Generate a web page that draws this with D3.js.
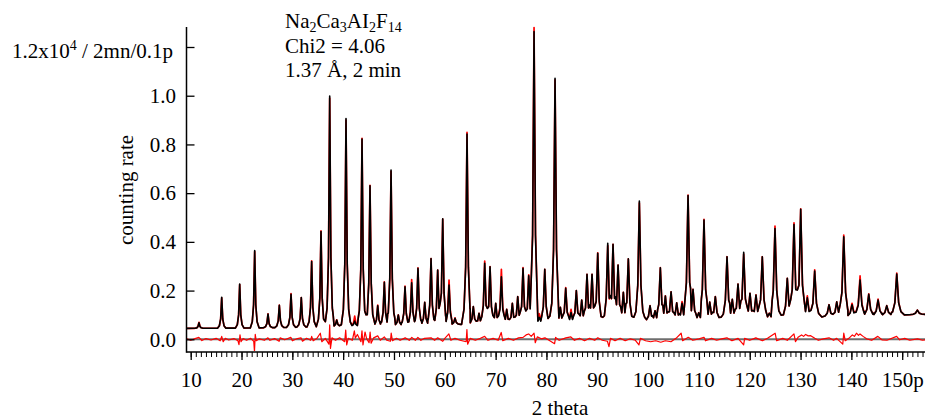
<!DOCTYPE html>
<html>
<head>
<meta charset="utf-8">
<script src="https://cdn.jsdelivr.net/npm/d3@7"></script>
<style>
body { margin: 0; background: #fff; }
svg text { font-family: "Liberation Serif", "Times New Roman", serif; font-size: 21px; fill: #000; }
</style>
</head>
<body>
<svg id="chart" width="925" height="420"></svg>
<script>
(() => {

const peak_pos = [11.63, 16.1, 19.64, 22.59, 25.21, 27.44, 29.74, 31.76, 33.8, 35.64,
    37.35, 38.73, 40.56, 42.27, 43.71, 45.28, 46.8, 48.1, 49.42, 50.85,
    52.17, 53.48, 54.72, 56.05, 57.29, 58.6, 59.59, 60.83, 62.01, 64.37,
    65.61, 66.73, 67.85, 68.9, 70.02, 71.13, 72.18, 73.29, 74.35, 75.39,
    76.51, 77.56, 78.6, 79.67, 81.69, 82.74, 83.79, 84.84, 85.88, 86.94,
    87.98, 88.97, 90.09, 92.06, 93.1, 94.09, 95.13, 96.11, 98.28, 100.38,
    101.37, 102.41, 103.4, 104.52, 105.63, 106.68, 107.86, 108.84, 109.96, 111.0,
    112.13, 113.23, 115.53, 116.57, 117.69, 118.81, 120.05, 121.23, 122.47, 123.85,
    124.97, 127.39, 128.71, 130.03, 131.33, 132.78, 135.6, 137.12, 138.5, 140.13,
    141.71, 143.42, 145.25, 146.96, 148.93, 152.98];

const calc_height = [0.068, 0.172, 0.227, 0.364, 0.104, 0.14, 0.185, 0.171, 0.319, 0.442,
    0.999, 0.079, 0.906, 0.075, 0.822, 0.63, 0.138, 0.234, 0.695, 0.1,
    0.216, 0.232, 0.291, 0.152, 0.331, 0.284, 0.495, 0.223, 0.086, 0.843,
    0.134, 0.107, 0.312, 0.298, 0.148, 0.257, 0.123, 0.148, 0.175, 0.291,
    0.261, 1.263, 0.09, 0.287, 1.072, 0.131, 0.209, 0.11, 0.2, 0.161,
    0.267, 0.267, 0.353, 0.394, 0.39, 0.305, 0.193, 0.33, 0.568, 0.138,
    0.117, 0.294, 0.178, 0.195, 0.15, 0.148, 0.59, 0.205, 0.109, 0.49,
    0.153, 0.175, 0.339, 0.164, 0.227, 0.357, 0.189, 0.182, 0.339, 0.107,
    0.455, 0.25, 0.471, 0.534, 0.17, 0.28, 0.142, 0.154, 0.421, 0.142,
    0.243, 0.185, 0.161, 0.138, 0.268, 0.12];

const obs_height = [0.07, 0.17, 0.225, 0.36, 0.104, 0.14, 0.188, 0.171, 0.322, 0.445,
    0.99, 0.08, 0.9, 0.095, 0.825, 0.632, 0.14, 0.236, 0.69, 0.1,
    0.218, 0.245, 0.293, 0.152, 0.331, 0.284, 0.493, 0.243, 0.088, 0.85,
    0.134, 0.107, 0.321, 0.298, 0.148, 0.287, 0.123, 0.148, 0.175, 0.294,
    0.265, 1.28, 0.105, 0.287, 1.065, 0.131, 0.212, 0.123, 0.2, 0.161,
    0.267, 0.267, 0.355, 0.385, 0.39, 0.305, 0.193, 0.33, 0.56, 0.138,
    0.117, 0.294, 0.178, 0.195, 0.15, 0.155, 0.592, 0.205, 0.109, 0.492,
    0.153, 0.175, 0.339, 0.164, 0.227, 0.35, 0.189, 0.182, 0.339, 0.107,
    0.465, 0.25, 0.478, 0.536, 0.178, 0.285, 0.142, 0.154, 0.428, 0.148,
    0.26, 0.187, 0.165, 0.138, 0.272, 0.12];

// background level under the peaks
const bg_theta = [9.2, 20, 30, 40, 50, 60, 70, 80, 90, 100, 110, 120, 130, 140, 150, 155.5];
const bg_value = [0.045, 0.046, 0.049, 0.054, 0.057, 0.06, 0.064, 0.068, 0.07, 0.076,
    0.081, 0.085, 0.089, 0.094, 0.1, 0.103];

// difference curve (obs - calc)
const diff_theta = [9.2, 10, 11, 11.6, 12.2, 13, 14, 15, 15.8, 16.1, 16.4, 16.8, 17.5, 18.5, 19.3,
    19.5, 19.7, 19.9, 20.3, 21, 21.8, 22.4, 22.55, 22.7, 22.9, 23.5, 24.5, 25.2, 25.6, 26.5,
    27.4, 27.6, 28.5, 29.7, 30, 31, 31.7, 32, 32.8, 33.6, 33.8, 34.1, 34.8, 35.5, 35.8,
    36.5, 37.2, 37.35, 37.5, 37.8, 38.5, 39.3, 40.3, 40.5, 40.7, 41, 41.8, 42.2, 42.4, 42.8,
    43.5, 43.7, 43.9, 44.3, 44.6, 45.1, 45.3, 45.5, 46, 46.8, 47.3, 48.1, 48.6, 49.3, 49.45,
    49.7, 50.5, 51.2, 52.2, 53, 53.5, 54.2, 54.7, 55.3, 56, 57.3, 58, 58.6, 59.6, 60,
    60.8, 61.2, 62, 63, 64.2, 64.35, 64.5, 65, 66, 67, 67.85, 68.5, 69.5, 70.5, 71.1,
    71.4, 72.5, 73.5, 74.5, 75.4, 76, 76.5, 77, 77.56, 77.8, 78.2, 79, 79.7, 80.5, 81.6,
    81.8, 82.5, 83.8, 84.8, 85.5, 86.5, 87.5, 88.5, 89.5, 90.1, 91, 92, 92.3, 92.6, 93.5,
    94.5, 95.5, 96.5, 97.5, 98.2, 98.5, 99.5, 100.5, 101.5, 102.5, 103.4, 104.5, 105.5, 106.5, 106.8,
    107.9, 108.8, 110, 111, 111.3, 112.5, 113.5, 114.5, 115.5, 116.5, 117.7, 118.8, 119, 120, 121.2,
    122.5, 123.5, 125, 125.3, 126.5, 127.4, 128.7, 129, 129.5, 130.2, 130.6, 131, 131.5, 132, 132.8,
    133.5, 134.5, 135.6, 136.5, 137.1, 138.3, 138.5, 138.8, 139.5, 140.2, 140.6, 141, 141.4, 141.7, 142.3,
    143, 144, 145.2, 146, 147, 148.9, 149.5, 150.5, 151.5, 153, 154, 155.5];

const diff_value = [0.002, -0.004, 0.004, 0.008, -0.005, 0.003, -0.003, 0.004, -0.006, 0.012, -0.01, 0.004, -0.003, 0.003, -0.006,
    -0.022, 0.018, -0.01, 0.003, -0.004, 0.004, -0.008, -0.05, 0.02, -0.006, 0.002, -0.004, 0.006, -0.004, 0.003,
    -0.008, 0.006, -0.002, 0.008, -0.006, 0.003, 0.006, -0.008, 0.004, -0.004, 0.012, -0.006, 0.003, 0.025, -0.01,
    0.004, -0.02, 0.059, -0.037, 0.006, -0.004, 0.006, -0.01, 0.038, -0.023, 0.004, -0.004, 0.035, 0.005, 0.02,
    -0.01, 0.035, -0.023, 0.03, 0.004, -0.014, 0.03, -0.016, 0.006, 0.014, -0.004, 0.01, -0.004, -0.008, 0.025,
    -0.006, 0.004, -0.004, 0.006, -0.004, 0.008, -0.004, 0.008, -0.004, 0.004, 0.006, -0.004, 0.006, -0.008, 0.004,
    0.022, -0.004, 0.004, -0.004, -0.01, 0.04, -0.02, 0.004, -0.004, 0.004, 0.012, -0.004, 0.004, -0.004, 0.028,
    -0.006, 0.004, -0.004, 0.006, 0.008, 0.018, 0.022, 0.012, 0.025, -0.014, 0.01, 0.002, 0.006, -0.004, -0.018,
    0.008, -0.004, 0.006, 0.01, -0.004, 0.004, -0.006, 0.004, -0.004, 0.006, -0.004, -0.008, -0.03, 0.004, -0.006,
    0.004, -0.006, 0.002, -0.004, -0.023, 0.004, -0.006, -0.01, -0.006, -0.012, -0.006, -0.01, 0.004, 0.025, -0.006,
    0.008, -0.004, 0.002, 0.008, -0.006, 0.004, -0.004, 0.002, 0.006, -0.006, 0.004, -0.023, 0.004, -0.004, 0.006,
    -0.006, 0.004, 0.025, -0.006, 0.004, -0.004, 0.022, -0.01, 0.008, 0.018, 0.012, 0.02, 0.014, 0.015, 0.004,
    -0.004, 0.002, 0.006, -0.004, 0.004, -0.02, 0.025, -0.006, 0.004, 0.018, 0.012, 0.025, 0.016, 0.022, 0.012,
    0.002, -0.004, 0.012, -0.002, -0.004, 0.012, -0.002, 0.004, -0.004, 0.002, -0.004, 0.002];

const x_ticks = [10, 20, 30, 40, 50, 60, 70, 80, 90, 100, 110, 120, 130, 140, 150];
const x_minor_ticks = d3.range(10, 155, 1);
const y_ticks = [0, 0.2, 0.4, 0.6, 0.8, 1.0, 1.2];

// layout
const plot_left = 186.5;
const plot_right = 925;
const plot_top = 27;
const plot_bottom = 352;

let svg = d3.select('#chart');

let x = d3.scaleLinear().domain([10, 150]).range([190.7, 902.2]);
let y = d3.scaleLinear().domain([0, 1.2]).range([339.3, 47]);
let background = d3.scaleLinear().domain(bg_theta).range(bg_value);

// outline of one peak, in units of its half width and its height above background
const shape_offset = [-1, -0.55, -0.25, 0, 0.25, 0.55, 1];
const shape_level = [0, 0.08, 0.3, 1, 0.3, 0.08, 0];
let shape = d3.scaleLinear().domain(shape_offset).range(shape_level).clamp(true);
let half_width = (t) => 0.8 + 0.005 * (t - 10);

function excess(i, heights, t) {
    if (i < 0 || i >= peak_pos.length) return 0;
    let p = peak_pos[i];
    return shape((t - p) / half_width(p)) * (heights[i] - background(p));
}

function profile(heights) {
    let pts = [[bg_theta[0], bg_value[0]]];
    peak_pos.forEach((p, i) => {
        let hw = half_width(p);
        let left = p - hw;
        let right = p + hw;
        if (i > 0) left = Math.max(left, (peak_pos[i - 1] + p) / 2);
        if (i < peak_pos.length - 1) right = Math.min(right, (p + peak_pos[i + 1]) / 2);
        pts.push([left, background(left) + excess(i - 1, heights, left) + excess(i, heights, left)]);
        shape_offset.forEach((o) => {
            let t = p + o * hw;
            if (t > left && t < right) {
                pts.push([t, background(t) + excess(i, heights, t)]);
            }
        });
        pts.push([right, background(right) + excess(i, heights, right) + excess(i + 1, heights, right)]);
    });
    pts.push([bg_theta[bg_theta.length - 1], bg_value[bg_value.length - 1]]);
    return pts;
}

let line = d3.line()
    .x((d) => x(d[0]))
    .y((d) => y(d[1]));

svg.append('defs')
    .append('clipPath')
    .attr('id', 'plot_clip')
    .append('rect')
    .attr('x', plot_left + 0.5)
    .attr('y', 0)
    .attr('width', plot_right - plot_left)
    .attr('height', plot_bottom - 1);

let plot = svg.append('g').attr('clip-path', 'url(#plot_clip)');

// zero line of the difference curve
plot.append('line')
    .attr('x1', plot_left)
    .attr('x2', plot_right)
    .attr('y1', y(0))
    .attr('y2', y(0))
    .attr('stroke', '#6e6e6e')
    .attr('stroke-width', 2);

plot.append('path')
    .datum(diff_theta.map((t, i) => [t, diff_value[i]]))
    .attr('d', line)
    .attr('fill', 'none')
    .attr('stroke', '#ff0000')
    .attr('stroke-width', 1.2)
    .attr('stroke-linejoin', 'round');

// observed
plot.append('path')
    .datum(profile(obs_height))
    .attr('d', line)
    .attr('fill', 'none')
    .attr('stroke', '#ff0000')
    .attr('stroke-width', 1.7)
    .attr('stroke-linejoin', 'round');

// calculated
plot.append('path')
    .datum(profile(calc_height))
    .attr('d', line)
    .attr('fill', 'none')
    .attr('stroke', '#000')
    .attr('stroke-width', 1.6)
    .attr('stroke-linejoin', 'round');

// axes
let y_axis = d3.axisLeft(y)
    .tickValues(y_ticks)
    .tickSizeInner(-8)
    .tickSizeOuter(0)
    .tickPadding(10.5)
    .tickFormat((d) => d === 1.2 ? '' : d3.format('.1f')(d));

svg.append('g')
    .attr('transform', `translate(${plot_left},0)`)
    .call(y_axis)
    .call((g) => g.select('.domain').remove())
    .call((g) => g.selectAll('line').attr('stroke-width', 1.3));

let x_axis = d3.axisBottom(x)
    .tickValues(x_ticks)
    .tickSizeInner(8)
    .tickSizeOuter(0)
    .tickPadding(12)
    .tickFormat((d) => d === 150 ? '150p' : d);

svg.append('g')
    .attr('transform', `translate(0,${plot_bottom})`)
    .call(x_axis)
    .call((g) => g.select('.domain').remove())
    .call((g) => g.selectAll('line').attr('stroke-width', 1.3));

svg.append('g')
    .attr('transform', `translate(0,${plot_bottom})`)
    .call(d3.axisBottom(x).tickValues(x_minor_ticks).tickSize(5).tickFormat(''))
    .call((g) => g.select('.domain').remove())
    .call((g) => g.selectAll('line').attr('stroke-width', 1));

svg.append('line')
    .attr('x1', plot_left).attr('x2', plot_left)
    .attr('y1', plot_top).attr('y2', plot_bottom + 0.75)
    .attr('stroke', '#000').attr('stroke-width', 1.5);

svg.append('line')
    .attr('x1', plot_left).attr('x2', plot_right)
    .attr('y1', plot_bottom).attr('y2', plot_bottom)
    .attr('stroke', '#000').attr('stroke-width', 1.5);

// top tick label with units
let unit_label = svg.append('text')
    .attr('x', plot_left - 13.5)
    .attr('y', y(1.2) + 10.7)
    .style('text-anchor', 'end');
unit_label.append('tspan').text('1.2x10');
unit_label.append('tspan').attr('dy', -8).style('font-size', '14px').text('4');
unit_label.append('tspan').attr('dy', 8).text(' / 2mn/0.1p');

// axis titles
svg.append('text')
    .attr('transform', 'translate(133,190) rotate(-90)')
    .style('text-anchor', 'middle')
    .text('counting rate');

svg.append('text')
    .attr('x', 560)
    .attr('y', 415)
    .style('text-anchor', 'middle')
    .text('2 theta');

// sample annotation
let formula = svg.append('text').attr('x', 285).attr('y', 28);
[['Na', 0], ['2', 1], ['Ca', 0], ['3', 1], ['AI', 0], ['2', 1], ['F', 0], ['14', 1]].forEach(([s, sub], i, arr) => {
    let prev = i > 0 ? arr[i - 1][1] : 0;
    formula.append('tspan')
        .attr('dy', (sub - prev) * 4)
        .style('font-size', sub ? '14px' : '21px')
        .text(s);
});

svg.append('text').attr('x', 285).attr('y', 52.5).text('Chi2 = 4.06');
svg.append('text').attr('x', 285).attr('y', 76.5).text('1.37 Å, 2 min');

})();
</script>
</body>
</html>
